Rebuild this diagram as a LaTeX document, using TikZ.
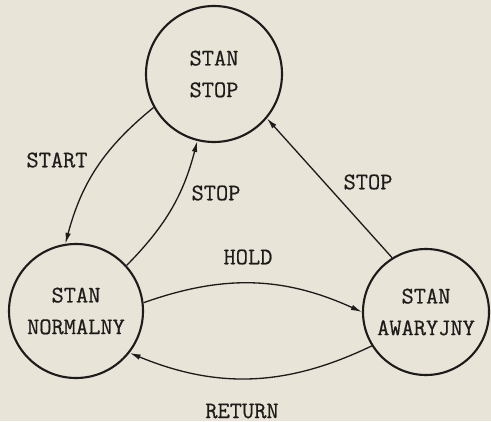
\documentclass[tikz,border=0pt]{standalone}
\usepackage{fontspec}
\setmonofont{Latin Modern Mono}[FakeBold=0.6]
\usetikzlibrary{arrows.meta}
\definecolor{scanpaper}{RGB}{233,228,216}
\definecolor{scanink}{RGB}{30,28,26}

\begin{document}
\begin{tikzpicture}[stan/.style={draw=scanink, circle, line width=1.2pt, align=center, text=scanink, font=\ttfamily\fontsize{13.5}{18}\selectfont},
 lbl/.style={text=scanink, font=\ttfamily\fontsize{13.5}{15}\selectfont},
 trans/.style={draw=scanink, line width=0.75pt, -{Latex[length=2.2mm, width=1.1mm]}}]
 \fill[scanpaper] (0,0) rectangle (9.82,8.42);
 \useasboundingbox (0,0) rectangle (9.82,8.42);
 \node[stan, minimum size=2.72cm] (stop) at (4.28,6.94){STAN\\STOP};
 \node[stan, minimum size=2.68cm] (normalny) at (1.52,2.20){STAN\\NORMALNY};
 \node[stan, minimum size=2.52cm] (awaryjny) at (8.52,2.18){STAN\\AWARYJNY};
 \node[lbl] (lstart) at (1.14,5.22){START};
 \node[lbl] (lstopa) at (4.32,4.56){STOP};
 \node[lbl] (lstopb) at (7.36,4.78){STOP};
 \node[lbl] (lhold) at (4.96,3.28){HOLD};
 \node[lbl] (lreturn) at (4.84,0.2){RETURN};
 \draw[trans] (stop.209) to[bend right=18] (normalny.99);
 \draw[trans] (normalny.42) to[bend right=15] (stop.256);
 \draw[trans] (awaryjny.122) -- (stop.320);
 \draw[trans] (normalny.7) to[bend left=22] (awaryjny.180);
 \draw[trans] (awaryjny.212) to[bend left=24] (normalny.322);
\end{tikzpicture}
\end{document}
